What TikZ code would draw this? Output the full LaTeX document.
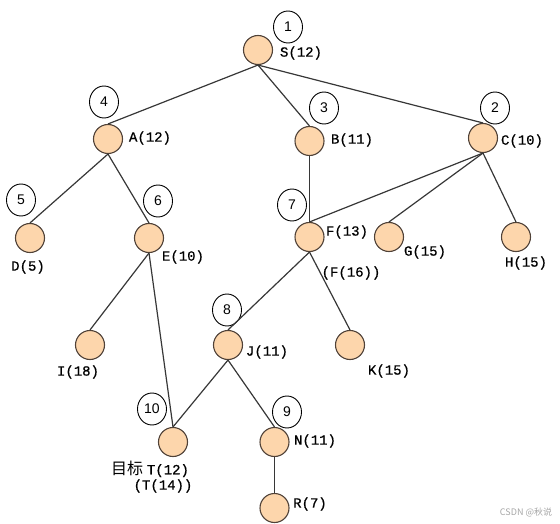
\documentclass[tikz,border=0pt]{standalone}
\usepackage{fontspec}
\setmainfont{Liberation Mono}
\newfontfamily\etiq{Liberation Mono}[FakeBold=0.7]
\newfontfamily\cjk{Noto Sans CJK SC}
\newfontfamily\chiffres{Liberation Sans}
\usepackage{tikz}
\usetikzlibrary{shapes.geometric}
\definecolor{peche}{RGB}{253,214,172}
\definecolor{bordpeche}{RGB}{80,66,56}
\definecolor{traitarbre}{RGB}{55,55,55}

\begin{document}
\begin{tikzpicture}[x=1pt,y=-1pt]
% définition des paramètres
\tikzstyle cerclearbre=[circle,draw=bordpeche,fill=peche,line width=1.1pt,minimum size=29pt,inner sep=0pt]
\tikzstyle ordrearbre=[ellipse,draw=black,fill=white,line width=0.9pt,minimum width=29pt,minimum height=32pt,inner sep=0pt,font=\chiffres\fontsize{14}{14}\selectfont]
\tikzstyle textearbre=[inner sep=0pt,font=\etiq\fontsize{14}{16}\selectfont]
\tikzstyle branchearbre=[color=traitarbre,line width=1.2pt]
% le cadre
\useasboundingbox (0,0) rectangle (560,524);
% les numéros d'ordre
\foreach \n/\x/\y in {1/288/27, 2/495/108, 3/324/108, 4/104/102, 5/21/200,
                      6/158/201, 7/292/205, 8/227/310, 9/287/412, 10/152/409}
    \node[ordrearbre] (o\n) at (\x,\y) {\n};
% les noeuds
\foreach \nom/\x/\y in {S/258/50, A/108/139, B/309.5/141, C/483/138, D/30/238,
                        E/149/238, F/309.5/237, G/389/237, H/516/237, I/90/345,
                        J/228/345, K/350/345, T/173/442, N/274.5/442, R/274.5/508}
    \node[cerclearbre] (\nom) at (\x,\y) {};
% les branches
\foreach \p/\f in {S/A, S/B, S/C, A/D, A/E, B/F, C/F, C/G, C/H,
                   E/I, E/T, F/J, F/K, J/T, J/N, N/R}
    \draw[branchearbre] (\p.south) -- (\f.north);
% les étiquettes
\foreach \nom/\x/\y/\texte in {S/301/53/S(12), A/150/138/A(12), B/352/140/B(11),
                               C/522/141/C(10), D/28/267/D(5), E/183/257/E(10),
                               F/347/232/F(13), G/425/252/G(15), H/526/263/H(15),
                               I/78/372/I(18), J/267/352/J(11), K/389/371/K(15),
                               N/315/441/N(11), R/310/504/R(7)}
    \node[textearbre] (l\nom) at (\x,\y) {\texte};
\node[textearbre] (lFbis) at (351,273) {(F(16))};
\node[textearbre] (lT) at (150,469) {{\cjk\fontsize{16}{16}\selectfont 目标}\;T(12)};
\node[textearbre] (lTbis) at (163,486) {(T(14))};
% le filigrane
\node[inner sep=0pt,color=black!35,font=\cjk\fontsize{9}{9}\selectfont] (csdn) at (526,512) {CSDN @秋说};
\end{tikzpicture}
\end{document}
